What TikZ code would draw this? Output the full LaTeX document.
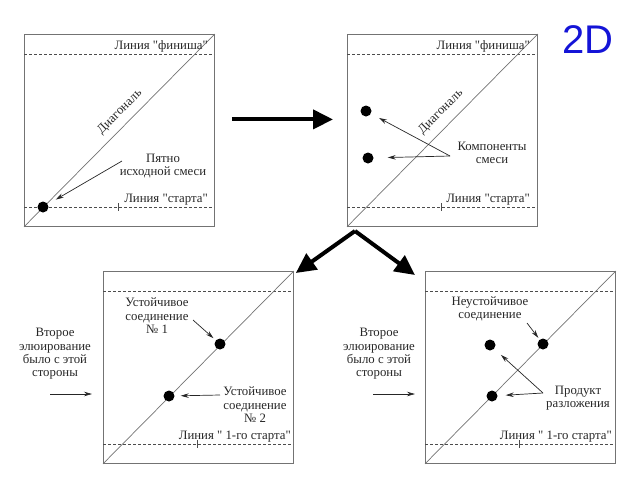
\documentclass[tikz,border=0pt]{standalone}
\usepackage{fontspec}
\setmainfont{Liberation Serif}
\newfontfamily\titlefont{Liberation Sans}
\usetikzlibrary{arrows.meta}
\definecolor{titleblue}{RGB}{20,20,215}
\newcommand{\qt}{\textquotedbl}
\tikzset{
  plate/.style={draw=black!55, line width=0.8pt, inner sep=0pt},
  runline/.style={draw=black!70, dashed, dash pattern=on 3pt off 2pt, line width=0.6pt},
  diag/.style={draw=black!55, line width=0.7pt},
  spot/.style={circle, fill=black, minimum size=11pt, inner sep=0pt},
  lbl/.style={text=black!85, font=\fontsize{12.8}{13.4}\selectfont, align=center, inner sep=1pt},
  pointer/.style={-{Stealth[length=8pt,width=4.5pt]}, draw=black!85, line width=0.7pt},
  bigarrow/.style={-{Triangle[length=20pt,width=19pt]}, line width=4pt},
}

\begin{document}
\begin{tikzpicture}[x=1pt, y=-1pt]
    \useasboundingbox (0,0) rectangle (640,480);

    % Plates with diagonal, start and finish lines
    \foreach \name/\x/\y in {p1/24/34, p2/347/34, p3/103/271, p4/425/271} {
      \node[plate, minimum width=190pt, minimum height=192pt, anchor=north west] (\name) at (\x,\y) {};
      \draw[runline] (\x,\y+20) -- ++(190,0);
      \draw[runline] (\x,\y+173) -- ++(190,0);
      \draw[diag] (\name.south west) -- (\name.north east);
      \draw[draw=black!70, line width=0.5pt] (\x+94,\y+169) -- ++(0,8);
    }

    % Line labels
    \node[lbl, anchor=base east] (f1) at (209,49) {Линия \qt финиша\qt};
    \node[lbl, anchor=base east] (f2) at (531,49) {Линия \qt финиша\qt};
    \node[lbl, anchor=base east] (st1) at (209,202) {Линия \qt старта\qt};
    \node[lbl, anchor=base east] (st2) at (531,202) {Линия \qt старта\qt};
    \node[lbl, anchor=base east] (st3) at (292,439) {Линия \qt\ 1-го старта\qt};
    \node[lbl, anchor=base east] (st4) at (613,439) {Линия \qt\ 1-го старта\qt};
    \node[lbl, rotate=45] (d1) at (120,112) {Диагональ};
    \node[lbl, rotate=45] (d2) at (441,112) {Диагональ};

    % Spots
    \node[spot] (s1) at (43,207) {};
    \node[spot] (s2a) at (366,111) {};
    \node[spot] (s2b) at (368,158) {};
    \node[spot] (s3a) at (220,344) {};
    \node[spot] (s3b) at (169,396) {};
    \node[spot] (s4a) at (543,344) {};
    \node[spot] (s4b) at (490,345) {};
    \node[spot] (s4c) at (492,396) {};

    % Labels and pointers
    \node[lbl] (l1) at (163,166) {Пятно\\исходной смеси};
    \coordinate (l1p) at (122,161);
    \draw[pointer, shorten >=9pt] (l1p) -- (s1);

    \node[lbl] (l2) at (492,153) {Компоненты\\смеси};
    \coordinate (l2p) at (450,156);
    \draw[pointer, shorten >=9pt] (l2p) -- (s2a);
    \draw[pointer, shorten >=14pt] (l2p) -- (s2b);

    \node[lbl] (l3a) at (157,316) {Устойчивое\\соединение\\№ 1};
    \coordinate (l3ap) at (193,320);
    \draw[pointer, shorten >=3pt] (l3ap) -- (s3a);

    \node[lbl] (l3b) at (255,405) {Устойчивое\\соединение\\№ 2};
    \coordinate (l3bp) at (220,395);
    \draw[pointer, shorten >=6pt] (l3bp) -- (s3b);

    \node[lbl] (l4a) at (490,309) {Неустойчивое\\соединение};
    \coordinate (l4ap) at (527,323);
    \draw[pointer, shorten >=2pt] (l4ap) -- (s4a);

    \node[lbl] (l4b) at (578,398) {Продукт\\разложения};
    \coordinate (l4bp) at (543,393);
    \draw[pointer, shorten >=9pt] (l4bp) -- (s4b);
    \draw[pointer, shorten >=8pt] (l4bp) -- (s4c);

    % Second elution side
    \node[lbl] (e3) at (55,354) {Второе\\элюирование\\было с этой\\стороны};
    \node[lbl] (e4) at (379,354) {Второе\\элюирование\\было с этой\\стороны};
    \coordinate (e3a) at (50,394);
    \coordinate (e3b) at (92,394);
    \coordinate (e4a) at (373,394);
    \coordinate (e4b) at (415,394);
    \draw[pointer] (e3a) -- (e3b);
    \draw[pointer] (e4a) -- (e4b);

    % Big arrows
    \coordinate (fork) at (355,231);
    \draw[bigarrow] ([xshift=17pt,yshift=11pt]p1.east) -- ([xshift=-14pt,yshift=11pt]p2.west);
    \draw[bigarrow] (fork) -- ([xshift=2pt,yshift=-2pt]p3.north east);
    \draw[bigarrow] (fork) -- ([xshift=-10pt,yshift=-4pt]p4.north west);

    % Title
    \node[text=titleblue, font=\titlefont\fontsize{40}{44}\selectfont] (title) at (588,40) {2D};
\end{tikzpicture}
\end{document}
